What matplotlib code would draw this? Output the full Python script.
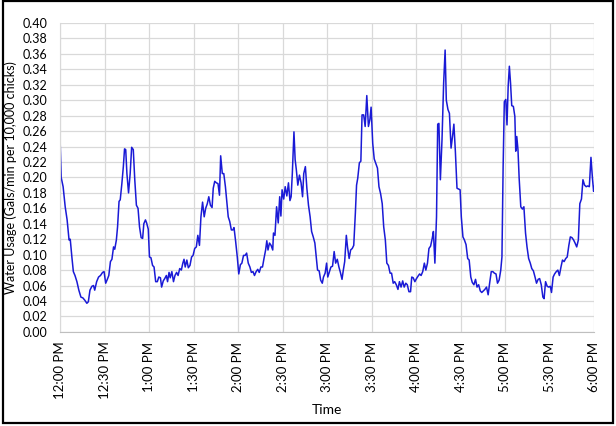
import matplotlib
matplotlib.use("Agg")
import matplotlib.pyplot as plt
from matplotlib.patches import Rectangle

# minutes after 12:00 PM
minutes = [
    0.0, 0.8, 2.1, 3.5, 4.8, 6.1, 6.9, 8.0, 9.0, 10.1, 11.4, 12.7, 14.1, 15.4, 16.7,
    18.1, 19.1, 20.2, 21.5, 22.6, 23.4, 24.7, 26.0, 27.3, 28.7, 29.7, 30.8, 31.9, 32.9,
    34.0, 35.0, 36.1, 36.9, 38.0, 38.8, 39.8, 40.6, 41.7, 42.7, 43.5, 44.3, 45.1, 46.2,
    47.3, 48.3, 49.4, 50.4, 51.5, 52.6, 53.6, 54.7, 55.7, 56.5, 57.6, 58.4, 59.5, 60.3,
    61.3, 62.4, 63.4, 64.5, 65.6, 66.6, 67.7, 68.5, 69.6, 70.6, 71.7, 72.5, 73.5, 74.3,
    75.4, 76.5, 77.5, 78.6, 79.6, 80.7, 81.8, 82.8, 83.6, 84.4, 85.5, 86.5, 87.6, 88.7,
    89.7, 90.8, 91.9, 92.9, 94.0, 95.0, 96.1, 97.2, 98.2, 99.3, 100.3, 101.4, 102.5,
    103.3, 104.3, 105.4, 106.5, 107.5, 108.3, 109.4, 110.4, 111.5, 112.6, 113.4, 114.4,
    115.5, 116.5, 117.3, 118.4, 119.5, 120.5, 121.6, 122.6, 123.7, 124.8, 125.8, 126.9,
    128.0, 129.0, 130.1, 131.1, 132.2, 133.3, 134.3, 135.4, 136.5, 137.5, 138.6, 139.4,
    140.2, 141.2, 142.3, 143.4, 143.9, 144.9, 146.0, 147.1, 148.1, 148.9, 149.7, 150.8,
    151.8, 152.9, 154.0, 155.0, 155.8, 156.6, 157.7, 158.5, 159.3, 160.3, 161.4, 162.5,
    163.5, 164.3, 165.4, 166.4, 167.5, 168.6, 169.6, 170.7, 171.8, 172.8, 173.6, 174.7,
    175.7, 176.8, 177.6, 178.7, 179.7, 180.5, 181.6, 182.6, 183.7, 184.8, 185.8, 186.9,
    188.0, 189.0, 190.1, 190.9, 191.9, 193.0, 193.8, 194.9, 195.9, 197.0, 198.0, 199.1,
    199.9, 200.7, 201.8, 202.8, 203.6, 204.7, 205.7, 206.8, 207.9, 208.9, 209.7, 210.8,
    211.8, 212.9, 214.0, 215.0, 216.1, 217.2, 218.2, 219.3, 220.3, 221.4, 222.5, 223.5,
    224.6, 225.6, 226.7, 227.8, 228.8, 229.9, 231.0, 232.0, 233.1, 234.1, 235.2, 236.3,
    237.1, 238.1, 239.2, 240.3, 241.3, 242.4, 243.4, 244.5, 245.6, 246.6, 247.7, 248.7,
    249.8, 250.9, 251.7, 252.7, 253.8, 254.6, 255.4, 256.4, 257.5, 258.6, 259.6, 260.4,
    261.5, 262.5, 263.6, 264.7, 265.5, 266.5, 267.6, 268.7, 269.7, 270.5, 271.6, 272.6,
    273.7, 274.8, 275.8, 276.9, 277.9, 279.0, 280.1, 281.1, 282.2, 283.3, 284.3, 285.4,
    286.4, 287.5, 288.6, 289.6, 290.7, 291.8, 292.8, 293.9, 294.9, 296.0, 297.1, 297.9,
    298.7, 299.5, 300.5, 301.3, 302.1, 302.9, 303.7, 304.5, 305.6, 306.6, 307.2, 307.9,
    308.7, 309.5, 310.6, 311.7, 312.7, 313.8, 314.8, 315.9, 317.0, 318.0, 319.1, 320.2,
    321.2, 322.3, 323.3, 324.4, 325.5, 326.3, 327.3, 328.4, 329.4, 330.5, 331.3, 332.4,
    333.4, 334.5, 335.6, 336.6, 337.7, 338.7, 339.8, 340.9, 341.9, 343.0, 344.0, 345.1,
    346.2, 347.2, 348.3, 349.4, 350.4, 351.5, 352.5, 353.6, 354.7, 355.7, 356.8, 357.9,
    358.9, 359.7, 360.0,
]

usage = [
    0.253, 0.200, 0.188, 0.162, 0.145, 0.119, 0.120, 0.097, 0.078, 0.073, 0.065, 0.054,
    0.045, 0.044, 0.041, 0.037, 0.039, 0.054, 0.059, 0.060, 0.054, 0.065, 0.071, 0.073,
    0.077, 0.078, 0.063, 0.068, 0.073, 0.091, 0.094, 0.110, 0.107, 0.119, 0.136, 0.169,
    0.171, 0.192, 0.214, 0.237, 0.236, 0.205, 0.180, 0.205, 0.239, 0.236, 0.197, 0.164,
    0.160, 0.136, 0.122, 0.121, 0.140, 0.145, 0.141, 0.133, 0.097, 0.096, 0.086, 0.084,
    0.065, 0.065, 0.071, 0.070, 0.058, 0.066, 0.069, 0.073, 0.065, 0.077, 0.070, 0.078,
    0.065, 0.073, 0.077, 0.073, 0.082, 0.080, 0.089, 0.094, 0.084, 0.093, 0.083, 0.086,
    0.097, 0.099, 0.108, 0.110, 0.125, 0.112, 0.149, 0.168, 0.149, 0.160, 0.166, 0.175,
    0.164, 0.161, 0.186, 0.195, 0.193, 0.192, 0.177, 0.228, 0.205, 0.205, 0.188, 0.166,
    0.149, 0.143, 0.132, 0.132, 0.135, 0.117, 0.097, 0.075, 0.087, 0.089, 0.099, 0.099,
    0.102, 0.089, 0.084, 0.077, 0.078, 0.073, 0.078, 0.081, 0.077, 0.084, 0.084, 0.095,
    0.106, 0.118, 0.106, 0.115, 0.112, 0.106, 0.128, 0.125, 0.162, 0.141, 0.175, 0.150,
    0.184, 0.172, 0.188, 0.176, 0.193, 0.170, 0.175, 0.205, 0.259, 0.223, 0.210, 0.190,
    0.203, 0.193, 0.175, 0.205, 0.214, 0.186, 0.164, 0.149, 0.130, 0.123, 0.115, 0.095,
    0.080, 0.079, 0.067, 0.063, 0.071, 0.076, 0.089, 0.071, 0.078, 0.084, 0.085, 0.104,
    0.089, 0.094, 0.084, 0.077, 0.068, 0.079, 0.091, 0.125, 0.110, 0.095, 0.106, 0.108,
    0.112, 0.154, 0.190, 0.199, 0.219, 0.221, 0.281, 0.281, 0.266, 0.306, 0.266, 0.275,
    0.291, 0.244, 0.224, 0.218, 0.212, 0.188, 0.179, 0.166, 0.136, 0.119, 0.089, 0.086,
    0.076, 0.076, 0.063, 0.065, 0.061, 0.055, 0.065, 0.058, 0.066, 0.058, 0.063, 0.061,
    0.052, 0.052, 0.071, 0.070, 0.065, 0.069, 0.072, 0.075, 0.073, 0.078, 0.089, 0.080,
    0.089, 0.108, 0.111, 0.121, 0.130, 0.089, 0.149, 0.269, 0.270, 0.197, 0.249, 0.322,
    0.365, 0.300, 0.288, 0.283, 0.238, 0.255, 0.269, 0.234, 0.186, 0.185, 0.184, 0.149,
    0.123, 0.119, 0.113, 0.095, 0.093, 0.071, 0.064, 0.061, 0.068, 0.058, 0.061, 0.053,
    0.051, 0.053, 0.055, 0.058, 0.048, 0.063, 0.078, 0.078, 0.076, 0.075, 0.063, 0.067,
    0.080, 0.097, 0.214, 0.298, 0.301, 0.268, 0.318, 0.344, 0.322, 0.293, 0.292, 0.279,
    0.234, 0.253, 0.236, 0.199, 0.162, 0.159, 0.162, 0.128, 0.110, 0.095, 0.089, 0.082,
    0.079, 0.071, 0.063, 0.068, 0.069, 0.061, 0.045, 0.043, 0.065, 0.059, 0.058, 0.059,
    0.051, 0.071, 0.075, 0.078, 0.080, 0.073, 0.084, 0.093, 0.091, 0.095, 0.097, 0.112,
    0.123, 0.122, 0.119, 0.115, 0.110, 0.119, 0.166, 0.172, 0.197, 0.190, 0.188, 0.189,
    0.188, 0.226, 0.199, 0.182, 0.188,
]

tick_minutes = list(range(0, 361, 30))
tick_labels = ["12:00 PM", "12:30 PM", "1:00 PM", "1:30 PM", "2:00 PM", "2:30 PM",
               "3:00 PM", "3:30 PM", "4:00 PM", "4:30 PM", "5:00 PM", "5:30 PM", "6:00 PM"]

plt.rcParams['font.family'] = ['Lato', 'DejaVu Sans']

fig = plt.figure(figsize=(6.16, 4.26), dpi=100)
ax = fig.add_axes([0.0974, 0.221, 0.867, 0.725])

ax.plot(minutes, usage, color='#1a1ad6', linewidth=1.1)

ax.set_xlim(0, 360)
ax.set_ylim(0, 0.40)
ax.set_xticks(tick_minutes)
ax.set_xticklabels(tick_labels, rotation=90, fontsize=9.5)
ax.set_yticks([i * 0.02 for i in range(21)])
ax.set_yticklabels(["%.2f" % (i * 0.02) for i in range(21)], fontsize=9)
ax.grid(True, color='#d9d9d9', linewidth=0.9)
ax.set_axisbelow(True)
ax.tick_params(length=0)
ax.tick_params(axis='y', pad=9)
ax.tick_params(axis='x', pad=7)

for s in ['top', 'right']:
    ax.spines[s].set_visible(False)
ax.spines['left'].set_color('#d9d9d9')
ax.spines['bottom'].set_color('#bfbfbf')

ax.set_xlabel("Time", fontsize=10, labelpad=3)
ax.set_ylabel("Water Usage (Gals/min per 10,000 chicks)", fontsize=9, va='center')
ax.yaxis.set_label_coords(-0.093, 0.5)

fig.patches.append(Rectangle((0.005, 0.007), 0.99, 0.99, transform=fig.transFigure,
                             fill=False, edgecolor='black', linewidth=1.6))

fig.savefig("out.png", dpi=100)
